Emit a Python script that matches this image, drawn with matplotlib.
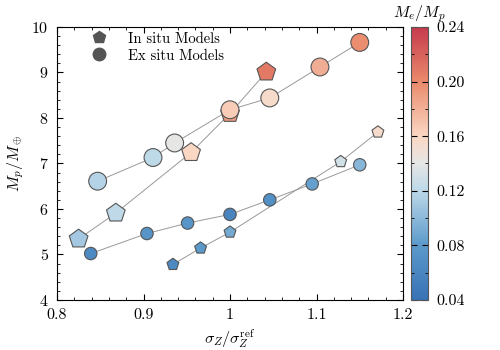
import numpy as np
import matplotlib
matplotlib.use("Agg")
import matplotlib.pyplot as plt
from matplotlib.colors import LinearSegmentedColormap, Normalize
from matplotlib.lines import Line2D
from matplotlib.ticker import MultipleLocator, FormatStrFormatter

plt.rcParams['font.family'] = 'serif'
plt.rcParams['font.serif'] = ['cmr10']
plt.rcParams['mathtext.fontset'] = 'cm'
plt.rcParams['axes.formatter.use_mathtext'] = True
plt.rcParams['font.size'] = 11.5

# ex situ models, upper branch
ex1_sigma = [0.847, 0.911, 0.936, 1.000, 1.046, 1.104, 1.150]
ex1_mass = [6.61, 7.13, 7.45, 8.18, 8.44, 9.12, 9.66]
ex1_me = [0.117, 0.121, 0.140, 0.165, 0.156, 0.182, 0.198]

# in situ models, upper branch
in1_sigma = [0.825, 0.868, 0.955, 1.000, 1.042]
in1_mass = [5.34, 5.91, 7.24, 8.10, 9.01]
in1_me = [0.110, 0.122, 0.160, 0.190, 0.208]

# ex situ models, lower branch
ex2_sigma = [0.839, 0.904, 0.951, 1.000, 1.046, 1.095, 1.150]
ex2_mass = [5.02, 5.46, 5.69, 5.88, 6.20, 6.55, 6.97]
ex2_me = [0.064, 0.074, 0.074, 0.058, 0.070, 0.083, 0.098]

# in situ models, lower branch
in2_sigma = [0.934, 0.966, 1.000, 1.128, 1.171]
in2_mass = [4.78, 5.14, 5.49, 7.04, 7.69]
in2_me = [0.064, 0.080, 0.090, 0.130, 0.155]

cmap = LinearSegmentedColormap.from_list(
    'me', [(0.0, '#3972b6'), (0.2, '#5c9acb'), (0.4, '#bcd8e8'),
           (0.5, '#e6e6e6'), (0.6, '#fad7c3'), (0.8, '#ea8a6c'),
           (1.0, '#c63a4c')])
norm = Normalize(vmin=0.04, vmax=0.24)

fig = plt.figure(figsize=(5, 3.5), dpi=100)
ax = fig.add_axes([0.114, 0.143, 0.692, 0.78])
cax = fig.add_axes([0.822, 0.143, 0.034, 0.78])

line_kw = dict(color='#999999', lw=0.7, zorder=1)
series = [
    (in1_sigma, in1_mass, in1_me, 'p', 200),
    (ex1_sigma, ex1_mass, ex1_me, 'o', 165),
    (in2_sigma, in2_mass, in2_me, 'p', 80),
    (ex2_sigma, ex2_mass, ex2_me, 'o', 80),
]
for x, y, c, m, s in series:
    ax.plot(x, y, **line_kw)
for x, y, c, m, s in series:
    sc = ax.scatter(x, y, c=c, cmap=cmap, norm=norm, marker=m, s=s,
                    edgecolors='#555555', linewidths=0.8, zorder=2)

ax.set_xlim(0.8, 1.2)
ax.set_ylim(4, 10)
ax.xaxis.set_major_locator(MultipleLocator(0.1))
ax.xaxis.set_minor_locator(MultipleLocator(0.02))
ax.yaxis.set_major_locator(MultipleLocator(1))
ax.yaxis.set_minor_locator(MultipleLocator(0.2))
ax.xaxis.set_major_formatter(FormatStrFormatter('%g'))
ax.tick_params(which='both', direction='in', top=True, right=True, pad=6)
ax.tick_params(which='major', length=4)
ax.tick_params(which='minor', length=2)
ax.set_xlabel(r'$\sigma_Z/\sigma_Z^{\rm ref}$', labelpad=4)
ax.set_ylabel(r'$M_p/M_\oplus$', labelpad=4)

handles = [
    Line2D([], [], marker='p', ls='', color='#555555', markersize=9),
    Line2D([], [], marker='o', ls='', color='#555555', markersize=9),
]
ax.legend(handles, ['In situ Models', 'Ex situ Models'], loc='upper left',
          bbox_to_anchor=(0.04, 1.03), frameon=False, handletextpad=1.0,
          labelspacing=0.22, fontsize=10.5)

cb = fig.colorbar(sc, cax=cax)
cb.set_ticks(np.arange(0.04, 0.2401, 0.04))
cb.ax.yaxis.set_major_formatter(FormatStrFormatter('%.2f'))
cb.ax.yaxis.set_minor_locator(MultipleLocator(0.02))
cb.ax.tick_params(which='both', direction='in', left=True, right=True, pad=6)
cb.ax.tick_params(which='major', length=4)
cb.ax.tick_params(which='minor', length=2)
cb.outline.set_edgecolor('#555555')
cb.ax.set_title(r'$M_e/M_p$', fontsize=11.5, pad=7)

fig.savefig('out.png', dpi=100)
